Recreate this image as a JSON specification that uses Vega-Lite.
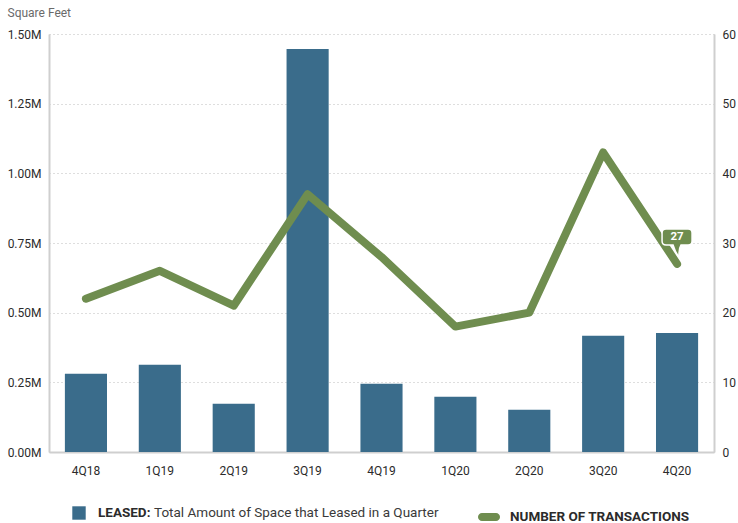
{
  "$schema": "https://vega.github.io/schema/vega-lite/v6.json",
  "width": 665,
  "height": 418,
  "autosize": {"type": "none"},
  "padding": {"left": 49, "top": 34, "right": 24, "bottom": 71},
  "background": "white",
  "config": {
    "font": "Roboto",
    "view": {"stroke": null},
    "axis": {
      "labelFont": "Roboto",
      "labelFontSize": 12,
      "labelColor": "#2b2b2b",
      "ticks": false,
      "domainColor": "#cfcfcf",
      "domainWidth": 2,
      "gridColor": "#bdbdbd",
      "gridDash": [1, 3],
      "gridWidth": 1
    },
    "legend": {
      "padding": 0,
      "labelFont": "Roboto",
      "titleFont": "Roboto",
      "labelLimit": 400,
      "titleLimit": 400
    }
  },
  "data": {
    "values": [
      {"quarter": "4Q18", "leased": 281000, "transactions": 22},
      {"quarter": "1Q19", "leased": 313000, "transactions": 26},
      {"quarter": "2Q19", "leased": 173000, "transactions": 21},
      {"quarter": "3Q19", "leased": 1446000, "transactions": 37},
      {"quarter": "4Q19", "leased": 245000, "transactions": 28},
      {"quarter": "1Q20", "leased": 198000, "transactions": 18},
      {"quarter": "2Q20", "leased": 152000, "transactions": 20},
      {"quarter": "3Q20", "leased": 417000, "transactions": 43},
      {"quarter": "4Q20", "leased": 427000, "transactions": 27}
    ]
  },
  "encoding": {
    "x": {
      "field": "quarter",
      "type": "ordinal",
      "sort": null,
      "scale": {"paddingInner": 0.43, "paddingOuter": 0.215},
      "axis": {
        "title": null,
        "labelAngle": 0,
        "labelPadding": 13,
        "domain": true,
        "grid": false
      }
    }
  },
  "layer": [
    {
      "mark": {"type": "bar", "color": "#3a6c8b"},
      "encoding": {
        "y": {
          "field": "leased",
          "type": "quantitative",
          "scale": {"domain": [0, 1500000], "nice": false},
          "axis": {
            "values": [0, 250000, 500000, 750000, 1000000, 1250000, 1500000],
            "labelExpr": "format(datum.value / 1000000, '.2f') + 'M'",
            "labelPadding": 8,
            "grid": true,
            "title": "Square Feet",
            "titleFont": "Roboto",
            "titleFontSize": 12,
            "titleFontWeight": "normal",
            "titleColor": "#6a6a6a",
            "titleAngle": 0,
            "titleAlign": "left",
            "titleBaseline": "middle",
            "titleX": -42,
            "titleY": -22
          }
        },
        "fill": {
          "datum": "LEASED:",
          "type": "nominal",
          "scale": {"range": ["#3a6c8b"]},
          "legend": {
            "orient": "none",
            "legendX": 23,
            "legendY": 472,
            "direction": "horizontal",
            "symbolType": "square",
            "symbolSize": 180,
            "symbolStrokeWidth": 0,
            "labelOffset": 12,
            "labelFontSize": 13.5,
            "labelFontWeight": "bold",
            "labelColor": "#2b2b2b",
            "title": "Total Amount of Space that Leased in a Quarter",
            "titleOrient": "right",
            "titleFontSize": 13.5,
            "titleFontWeight": "normal",
            "titleColor": "#3a3a3a",
            "titlePadding": 4,
            "titleBaseline": "middle",
            "titleAnchor": "middle"
          }
        }
      }
    },
    {
      "mark": {
        "type": "line",
        "strokeWidth": 8,
        "strokeCap": "round",
        "strokeJoin": "round"
      },
      "encoding": {
        "y": {
          "field": "transactions",
          "type": "quantitative",
          "scale": {"domain": [0, 60], "nice": false},
          "axis": {
            "orient": "right",
            "values": [0, 10, 20, 30, 40, 50, 60],
            "labelPadding": 8,
            "grid": false,
            "title": null
          }
        },
        "stroke": {
          "datum": "NUMBER OF TRANSACTIONS",
          "type": "nominal",
          "scale": {"range": ["#6f8d4f"]},
          "legend": {
            "orient": "none",
            "legendX": 429,
            "legendY": 472,
            "direction": "horizontal",
            "symbolType": "M -0.64 -0.36 L 0.64 -0.36 A 0.36 0.36 0 0 1 0.64 0.36 L -0.64 0.36 A 0.36 0.36 0 0 1 -0.64 -0.36 Z",
            "symbolSize": 484,
            "symbolFillColor": "#6f8d4f",
            "symbolStrokeWidth": 0,
            "labelOffset": 10,
            "labelFontSize": 13.5,
            "labelFontWeight": "bold",
            "labelColor": "#2b2b2b",
            "title": null
          }
        }
      }
    },
    {
      "transform": [{"filter": "datum.quarter === '4Q20'"}],
      "mark": {
        "type": "point",
        "shape": "M -0.55 -1.75 L 0.55 -1.75 Q 0.75 -1.75 0.75 -1.55 L 0.75 -1.15 Q 0.75 -0.95 0.55 -0.95 L 0.2 -0.95 Q 0.05 -0.7 0.12 -0.3 Q -0.1 -0.6 -0.2 -0.95 L -0.55 -0.95 Q -0.75 -0.95 -0.75 -1.15 L -0.75 -1.55 Q -0.75 -1.75 -0.55 -1.75 Z",
        "size": 1600,
        "filled": true,
        "fill": "#6f8d4f",
        "stroke": "white",
        "strokeWidth": 1.5,
        "opacity": 1
      },
      "encoding": {
        "y": {"field": "transactions", "type": "quantitative", "scale": {"domain": [0, 60], "nice": false}, "axis": null}
      }
    },
    {
      "transform": [{"filter": "datum.quarter === '4Q20'"}],
      "mark": {
        "type": "text",
        "dy": -27,
        "color": "white",
        "fontSize": 11.5,
        "fontWeight": "bold",
        "font": "Roboto"
      },
      "encoding": {
        "y": {"field": "transactions", "type": "quantitative", "scale": {"domain": [0, 60], "nice": false}, "axis": null},
        "text": {"field": "transactions", "type": "quantitative"}
      }
    }
  ],
  "resolve": {"scale": {"y": "independent"}}
}
